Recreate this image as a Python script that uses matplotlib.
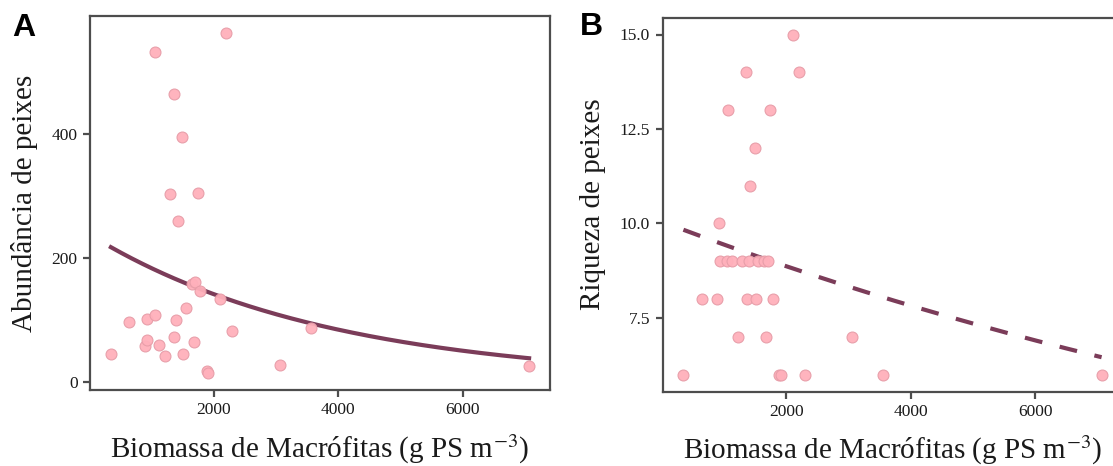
import numpy as np
import matplotlib
matplotlib.use("Agg")
import matplotlib.pyplot as plt

# ---- data ----
biomassa = [350, 643, 895, 927, 930, 1050, 1060, 1130, 1225, 1298,
            1363, 1365, 1397, 1423, 1499, 1510, 1555, 1650, 1680, 1702,
            1748, 1783, 1890, 1916, 2105, 2206, 2298, 3062, 3555, 7065]
abundancia = [45, 97, 58, 102, 67, 533, 108, 59, 42, 303,
              464, 72, 100, 259, 395, 44, 119, 157, 64, 161,
              305, 146, 17, 14, 133, 563, 82, 27, 86, 25]
riqueza = [6, 8, 8, 10, 9, 9, 13, 9, 7, 9,
           14, 8, 9, 11, 12, 8, 9, 9, 7, 9,
           13, 8, 6, 6, 15, 14, 6, 7, 6, 6]
xticks = [2000, 4000, 6000]
yticks_a = [0, 200, 400]
yticks_b = [7.5, 10.0, 12.5, 15.0]
xlabel = r"Biomassa de Macrófitas (g PS m$^{-3}$)"
ylabel_a = "Abundância de peixes"
ylabel_b = "Riqueza de peixes"


def irls(X, y, beta, theta=None, iters=50):
    for _ in range(iters):
        eta = X @ beta
        mu = np.exp(eta)
        z = eta + (y - mu) / mu
        W = mu if theta is None else mu / (1 + mu / theta)
        XtW = X.T * W
        beta = np.linalg.solve(XtW @ X, XtW @ z)
    return beta


def glm_fit(x, y, family="poisson"):
    x = np.asarray(x, float)
    y = np.asarray(y, float)
    X = np.column_stack([np.ones_like(x), x])
    beta = irls(X, y, np.array([np.log(y.mean()), 0.0]))
    if family == "poisson":
        return beta
    # negative binomial (theta by maximum likelihood, as MASS::glm.nb)
    yi = y.astype(int)
    theta = 1.0
    for _ in range(30):
        mu = np.exp(X @ beta)
        for _ in range(50):
            d1 = np.array([np.sum(1.0 / (theta + np.arange(k))) for k in yi])
            d2 = np.array([-np.sum(1.0 / (theta + np.arange(k)) ** 2) for k in yi])
            score = np.sum(d1 + np.log(theta) + 1 - np.log(theta + mu)
                           - (y + theta) / (theta + mu))
            info = np.sum(d2 + 1 / theta - 2 / (theta + mu)
                          + (y + theta) / (theta + mu) ** 2)
            theta_new = theta - score / info
            if theta_new <= 0:
                theta_new = theta / 2
            if abs(theta_new - theta) < 1e-10:
                theta = theta_new
                break
            theta = theta_new
        beta = irls(X, y, beta, theta)
    return beta


plt.rcParams["font.family"] = ["Liberation Serif", "DejaVu Serif"]
plt.rcParams["mathtext.fontset"] = "stix"

fig = plt.figure(figsize=(11.13, 4.66), dpi=100)
ax_a = fig.add_axes([90 / 1113, 1 - 390 / 466, 460 / 1113, 374 / 466])
ax_b = fig.add_axes([662.5 / 1113, 1 - 391.5 / 466, 460 / 1113, 374 / 466])

pt_face = "#ffb0bb"
pt_edge = "#e79da8"
line_col = "#7b3c59"
spine_col = "#4d4d4d"

x = np.asarray(biomassa, float)
xs = np.linspace(x.min(), x.max(), 200)

for ax, y, yt, ylab, dashed, fam in [
    (ax_a, abundancia, yticks_a, ylabel_a, False, "negbin"),
    (ax_b, riqueza, yticks_b, ylabel_b, True, "poisson"),
]:
    y = np.asarray(y, float)
    b = glm_fit(x, y, fam)
    ys = np.exp(b[0] + b[1] * xs)
    if dashed:
        ax.plot(xs, ys, color=line_col, lw=3.0, dashes=(4.3, 4.3), zorder=2,
                dash_capstyle="butt")
    else:
        ax.plot(xs, ys, color=line_col, lw=3.0, zorder=2)
    ax.scatter(x, y, s=62, facecolor=pt_face, edgecolor=pt_edge,
               linewidth=0.8, alpha=0.95, zorder=3)
    rng = x.max() - x.min()
    ax.set_xlim(x.min() - 0.05 * rng, x.max() + 0.05 * rng)
    yr = y.max() - y.min()
    ax.set_ylim(y.min() - 0.05 * yr, y.max() + 0.05 * yr)
    ax.set_xticks(xticks)
    ax.set_yticks(yt)
    if dashed:
        ax.set_yticklabels([f"{v:.1f}" for v in yt])
    ax.tick_params(axis="both", direction="out", length=5, width=1.6,
                   color=spine_col, labelsize=12.5, labelcolor="#1a1a1a", pad=4)
    for sp in ax.spines.values():
        sp.set_color(spine_col)
        sp.set_linewidth(1.6)
    ax.set_xlabel(xlabel, fontsize=21, labelpad=10, color="#1a1a1a")
    ax.set_ylabel(ylab, fontsize=21, labelpad=10, color="#1a1a1a")

fig.text(12 / 1113, 1 - 13 / 466, "A", fontsize=23, fontweight="bold",
         family="Liberation Sans", va="top", ha="left")
fig.text(580 / 1113, 1 - 12 / 466, "B", fontsize=23, fontweight="bold",
         family="Liberation Sans", va="top", ha="left")

fig.savefig("out.png", dpi=100)
